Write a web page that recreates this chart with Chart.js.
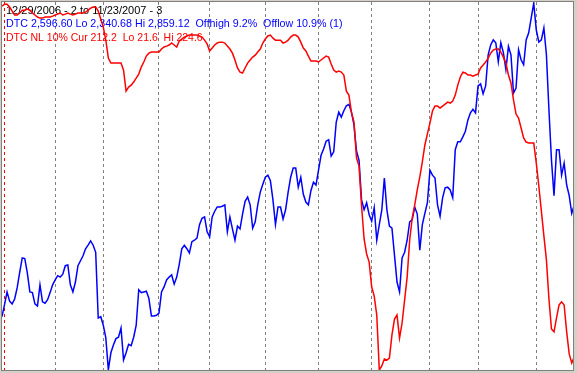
<!DOCTYPE html>
<html>
<head>
<meta charset="utf-8">
<script src="https://cdn.jsdelivr.net/npm/chart.js@4"></script>
<style>
body{margin:0;background:#d4d0c8;width:577px;height:373px;overflow:hidden}
#box{position:absolute;left:1px;top:1px;width:571px;height:368px;border:1px solid #808080;background:#fff}
</style>
</head>
<body>
<div id="box"><canvas id="myChart" width="571" height="368"></canvas></div>
<script>
// daily closes, 12/29/2006 .. 11/23/2007 (index = trading day)
var dtc=[2416,2433,2451,2438,2434,2441,2457,2479,2499,2498,
2478,2451,2450,2434,2431,2461,2437,2435,2440,2450,
2461,2468,2474,2472,2476,2488,2489,2461,2451,2465,
2488,2495,2502,2512,2517,2523,2517,2507,2414,2416,
2404,2386,2341,2365,2376,2385,2387,2400,2355,2365,
2377,2375,2387,2404,2454,2450,2451,2452,2442,2417,
2417,2418,2421,2451,2458,2468,2472,2475,2462,2472,
2490,2512,2517,2512,2506,2522,2524,2527,2546,2555,
2557,2536,2529,2557,2565,2571,2571,2572,2574,2536,
2557,2540,2524,2544,2540,2561,2579,2585,2574,2541,
2550,2574,2592,2603,2613,2616,2608,2581,2546,2571,
2571,2554,2567,2592,2613,2626,2626,2599,2613,2589,
2578,2574,2594,2606,2602,2623,2644,2653,2664,2666,
2643,2649,2691,2705,2698,2707,2714,2716,2705,2687,
2650,2637,2581,2567,2577,2560,2551,2570,2524,2546,
2567,2612,2567,2544,2541,2503,2465,2451,2499,2507,
2524,2550,2553,2571,2561,2510,2546,2562,2577,2623,
2616,2612,2574,2558,2584,2598,2599,2595,2584,2652,
2663,2663,2670,2678,2694,2704,2709,2704,2742,2745,
2731,2742,2786,2800,2807,2803,2776,2803,2789,2765,
2798,2786,2732,2739,2793,2779,2772,2807,2817,2838,
2859,2821,2804,2807,2824,2786,2708,2637,2587,2652,
2652,2616,2633,2602,2587,2562,2574]

var dtcNl=[222.9,224.0,224.0,222.4,220.2,218.0,218.0,219.1,220.7,220.7,
221.3,220.7,219.1,218.0,216.9,216.3,216.3,216.9,216.9,216.9,
217.4,218.0,218.5,219.1,218.0,218.5,219.1,218.5,218.0,218.5,
219.1,219.1,219.1,219.6,220.7,221.8,222.4,222.4,220.2,215.8,
211.3,204.1,194.2,191.4,191.4,191.4,191.4,191.4,187.5,175.9,
178.1,179.2,180.9,183.1,185.3,189.2,192.0,195.3,196.9,197.5,
197.5,197.5,197.5,199.2,200.3,200.8,201.4,202.5,201.4,200.3,
203.6,204.7,205.8,206.4,206.9,206.9,206.9,206.9,206.4,205.8,
204.1,202.0,198.1,199.7,201.4,202.5,203.0,203.0,202.5,200.8,
199.2,196.9,193.1,188.7,186.4,185.9,188.7,191.4,193.1,194.7,
195.8,197.5,199.2,202.5,204.7,206.4,206.9,205.2,204.1,204.1,
204.1,202.5,203.0,204.1,205.8,206.9,206.9,205.8,203.0,199.7,
198.1,195.3,192.5,192.5,192.5,192.0,193.1,194.2,195.3,194.7,
190.9,187.5,186.4,187.0,186.4,184.8,175.9,173.7,164.3,158.8,
138.9,134.4,112.3,94.1,85.8,81.3,67.5,62.5,52.0,21.6,
23.8,27.7,27.1,28.2,41.0,49.8,52.0,39.3,47.6,60.3,
73.0,93.5,105.7,112.9,121.2,128.4,136.7,146.1,152.2,158.2,
164.9,167.6,167.6,166.5,167.6,168.7,169.8,169.3,170.4,173.7,
179.2,183.7,186.4,185.9,184.8,184.8,184.2,184.8,185.3,188.7,
190.3,192.0,194.2,196.9,198.6,199.2,199.2,197.5,194.7,191.4,
184.8,180.4,171.0,163.2,161.0,155.5,150.0,147.7,147.2,147.2,
147.2,136.1,123.4,109.6,95.8,82.5,60.9,44.3,42.7,50.4,
57.6,59.3,57.6,42.7,30.5,25.5,28.8]

// first trading day of each month (index into the arrays above)
var monthStarts=[1,21,40,62,82,104,125,146,169,188,211]
var monthNames=["Jan","Feb","Mar","Apr","May","Jun","Jul","Aug","Sep","Oct","Nov"]

var headerLines=[
  ["12/29/2006 - 2 to 11/23/2007 - 3","#000000"],
  ["DTC 2,596.60 Lo 2,340.68 Hi 2,859.12  Offhigh 9.2%  Offlow 10.9% (1)","#0000ff"],
  ["DTC NL 10% Cur 212.2  Lo 21.6  Hi 224.6","#ff0000"]
]

var headerText={
  id:"headerText",
  beforeDatasetsDraw:function(chart){
    var c=chart.ctx
    var sizes=[11,10.7,10.5]
    c.save()
    c.textBaseline="alphabetic"
    for(var i=0;i<headerLines.length;i++){
      c.font=sizes[i]+'px "Liberation Sans", Arial, sans-serif'
      c.fillStyle=headerLines[i][1]
      c.fillText(headerLines[i][0],4,12+i*13.3)
    }
    c.restore()
  }
}

var ctx=document.getElementById("myChart")
var myChart=new Chart(ctx,{
  type:"line",
  data:{
    datasets:[{
      label:"DTC",
      data:dtc.map(function(v,i){return {x:i,y:v}}),
      borderColor:"#0000ff",
      borderWidth:1.5,
      pointRadius:0,
      tension:0,
      yAxisID:"y",
      order:2
    },{
      label:"DTC NL 10%",
      data:dtcNl.map(function(v,i){return {x:i,y:v}}),
      borderColor:"#ff0000",
      borderWidth:1.5,
      pointRadius:0,
      tension:0,
      yAxisID:"y2",
      order:1
    }]
  },
  options:{
    responsive:false,
    animation:false,
    layout:{padding:0},
    plugins:{legend:{display:false},tooltip:{enabled:false}},
    scales:{
      x:{
        type:"linear",
        min:0,
        max:225.5,
        afterBuildTicks:function(scale){
          scale.ticks=monthStarts.map(function(v){return {value:v}})
        },
        ticks:{display:false},
        border:{display:false,dash:[3,3]},
        grid:{
          drawTicks:false,
          lineWidth:1,
          color:function(c){return c.index===0?"#ff0000":"#808080"}
        }
      },
      y:{display:false,min:2340.68,max:2860.6},
      y2:{display:false,min:21.6,max:225.2}
    }
  },
  plugins:[headerText]
})
</script>
</body>
</html>
